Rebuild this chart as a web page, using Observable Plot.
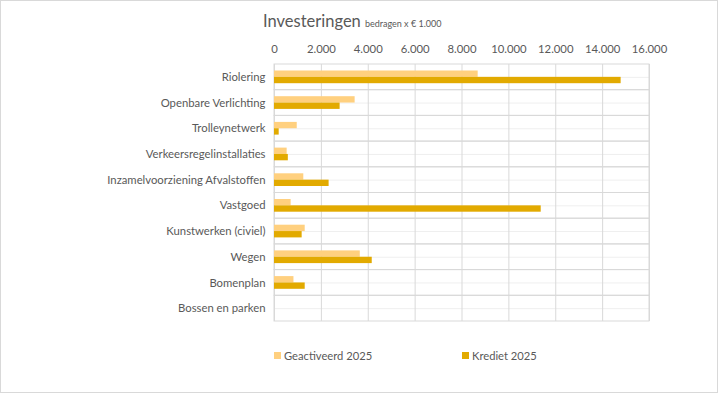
<!DOCTYPE html>
<html>
<head>
<meta charset="utf-8">
<script src="https://cdn.jsdelivr.net/npm/d3@7"></script>
<script src="https://cdn.jsdelivr.net/npm/@observablehq/plot@0.6"></script>
<style>
  html, body { margin: 0; padding: 0; background: #fff; }
  #chart {
    position: relative; width: 718px; height: 393px; box-sizing: border-box;
    border: 1px solid #d9d9d9; font-family: Lato, "Open Sans", sans-serif; color: #595959;
    overflow: hidden;
  }
  #title { height: 36px; box-sizing: border-box; padding-left: 262px; padding-top: 10px; white-space: nowrap; }
  #title .main { font-size: 16.5px; }
  #title .sub { font-size: 9px; }
  #legend { position: relative; height: 40px; font-size: 11.2px; }
  .item { position: absolute; top: 24px; display: flex; align-items: center; }
  .sw { width: 7px; height: 7px; margin-right: 3px; }
</style>
</head>
<body>
<div id="chart">
  <div id="title"><span class="main">Investeringen</span> <span class="sub">bedragen x € 1.000</span></div>
  <div id="plot"></div>
  <div id="legend"></div>
</div>
<script>
const categories = ["Riolering", "Openbare Verlichting", "Trolleynetwerk", "Verkeersregelinstallaties",
  "Inzamelvoorziening Afvalstoffen", "Vastgoed", "Kunstwerken (civiel)", "Wegen", "Bomenplan", "Bossen en parken"];
const seriesNames = ["Geactiveerd 2025", "Krediet 2025"];
const geactiveerd = [8690, 3440, 970, 540, 1250, 710, 1310, 3660, 830, 0];
const krediet = [14790, 2800, 200, 590, 2330, 11380, 1180, 4170, 1310, 0];
const xTicks = [0, 2000, 4000, 6000, 8000, 10000, 12000, 14000, 16000];
const colors = ["#FFD07F", "#E2AA00"];

const geactRows = categories.map((c, i) => ({cat: c, value: geactiveerd[i]}));
const kredRows = categories.map((c, i) => ({cat: c, value: krediet[i]}));

const fmt = d => d3.format(",")(d).replace(/,/g, ".");

const chart = Plot.plot({
  width: 716,
  height: 288,
  marginTop: 27,
  marginBottom: 4,
  marginLeft: 273,
  marginRight: 68,
  style: {fontFamily: "Lato, 'Open Sans', sans-serif", fontSize: "11.3px", color: "#595959", background: "transparent"},
  x: {domain: [0, 16000], ticks: xTicks, tickFormat: fmt, axis: "top", tickSize: 0, tickPadding: 12, label: null},
  y: {domain: categories, padding: 0, round: false, tickSize: 0, tickPadding: 9, label: null},
  marks: [
    Plot.ruleY(categories, {y: d => d, stroke: "#efefef", strokeWidth: 1}),
    Plot.ruleX(xTicks, {x: d => d, stroke: "#d9d9d9"}),
    Plot.barX(categories, {x1: 0, x2: 16000, y: d => d, fill: "none", stroke: "#d9d9d9"}),
    Plot.barX(geactRows, {x: "value", y: "cat", fill: colors[0], insetTop: 6.5, insetBottom: 12.85}),
    Plot.barX(kredRows, {x: "value", y: "cat", fill: colors[1], insetTop: 12.85, insetBottom: 6.5})
  ]
});
document.getElementById("plot").appendChild(chart);

const legend = document.getElementById("legend");
const lefts = [273, 461];
seriesNames.forEach((s, i) => {
  const it = document.createElement("div");
  it.className = "item";
  it.style.left = lefts[i] + "px";
  it.innerHTML = `<div class="sw" style="background:${colors[i]}"></div><span>${s}</span>`;
  legend.appendChild(it);
});
</script>
</body>
</html>
